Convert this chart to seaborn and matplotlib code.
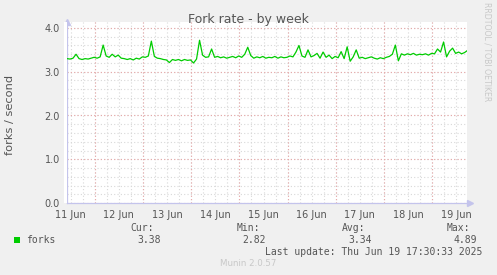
import numpy as np
import pandas as pd
import matplotlib
matplotlib.use("Agg")
import matplotlib.pyplot as plt
import seaborn as sns

# ---------------- data ----------------
title = "Fork rate - by week"
ylabel = "forks / second"
series_name = "forks"
start_day = 10.923          # left edge of the plot, in days of June
step_days = 0.0625          # 90-minute samples
fork_rate = [
    3.30, 3.29, 3.31, 3.40, 3.30, 3.28, 3.30, 3.29, 3.31, 3.33,
    3.31, 3.34, 3.61, 3.36, 3.33, 3.40, 3.34, 3.38, 3.31, 3.30,
    3.28, 3.30, 3.27, 3.31, 3.29, 3.34, 3.33, 3.36, 3.70, 3.35,
    3.31, 3.30, 3.28, 3.27, 3.21, 3.28, 3.26, 3.28, 3.25, 3.28,
    3.26, 3.27, 3.20, 3.29, 3.72, 3.38, 3.33, 3.34, 3.52, 3.33,
    3.35, 3.32, 3.34, 3.31, 3.33, 3.35, 3.32, 3.36, 3.33, 3.40,
    3.56, 3.37, 3.31, 3.34, 3.32, 3.35, 3.31, 3.33, 3.32, 3.35,
    3.31, 3.34, 3.32, 3.33, 3.36, 3.34, 3.45, 3.60, 3.36, 3.33,
    3.50, 3.34, 3.37, 3.42, 3.31, 3.45, 3.33, 3.38, 3.30, 3.35,
    3.32, 3.46, 3.30, 3.57, 3.24, 3.34, 3.50, 3.31, 3.33, 3.30,
    3.32, 3.34, 3.31, 3.29, 3.32, 3.30, 3.33, 3.35, 3.40, 3.61,
    3.25, 3.41, 3.38, 3.41, 3.39, 3.42, 3.38, 3.40, 3.39, 3.41,
    3.38, 3.42, 3.41, 3.52, 3.45, 3.68, 3.34, 3.47, 3.54, 3.42,
    3.45, 3.41, 3.44, 3.49,
]
day_labels = ["11 Jun", "12 Jun", "13 Jun", "14 Jun", "15 Jun",
              "16 Jun", "17 Jun", "18 Jun", "19 Jun"]
label_days = [11, 12, 13, 14, 15, 16, 17, 18, 19]
y_ticks = [0.0, 1.0, 2.0, 3.0, 4.0]
stat_names = ["Cur:", "Min:", "Avg:", "Max:"]
stat_values = ["3.38", "2.82", "3.34", "4.89"]
last_update = "Last update: Thu Jun 19 17:30:33 2025"
munin_version = "Munin 2.0.57"
side_text = "RRDTOOL / TOBI OETIKER"

days = start_day + step_days * np.arange(len(fork_rate))
df = pd.DataFrame({"day": days, "rate": fork_rate})

# ---------------- figure ----------------
W, H = 497, 275
sns.set_theme(style="white")
plt.rcParams["font.family"] = ["DejaVu Sans"]

fig = plt.figure(figsize=(W / 100, H / 100), dpi=100)
fig.patch.set_facecolor("#F0F0F0")

def fx(x):
    return x / W

def fy(y):
    return 1 - y / H

ax_left, ax_right, ax_top, ax_bottom = 67, 467, 22, 203
ax = fig.add_axes([fx(ax_left), fy(ax_bottom), (ax_right - ax_left) / W,
                   (ax_bottom - ax_top) / H])
ax.set_facecolor("white")
# small white margin left of the axis line, like rrdtool's canvas
fig.patches.append(plt.Rectangle((fx(64), fy(ax_bottom)), fx(3),
                                 (ax_bottom - ax_top) / H,
                                 transform=fig.transFigure,
                                 facecolor="white", edgecolor="none", zorder=0))

px_per_unit = 43.75
ymax = (ax_bottom - ax_top) / px_per_unit
xmax = start_day + (ax_right - ax_left) / 48.2
ax.set_xlim(start_day, xmax)
ax.set_ylim(0, ymax)

# grids
minor_col = "#D8D8D8"
major_col = "#E8A8A8"
dot = (0, (1, 2))
for v in np.arange(11.0, xmax, 0.25):
    ax.axvline(v, color=minor_col, lw=0.8, ls=dot, zorder=1)
for v in np.arange(0.2, ymax, 0.2):
    ax.axhline(v, color=minor_col, lw=0.8, ls=dot, zorder=1)
for d in label_days[:-1]:
    ax.axvline(d + 0.5, color=major_col, lw=0.8, ls=dot, zorder=2)
for v in y_ticks:
    ax.axhline(v, color=major_col, lw=0.8, ls=dot, zorder=2)

sns.lineplot(data=df, x="day", y="rate", ax=ax, color="#00CC00",
             linewidth=0.9, zorder=5, legend=False)

ax.set_xticks(label_days)
ax.set_xticklabels(day_labels)
ax.set_yticks(y_ticks)
ax.set_yticklabels([f"{v:.1f}" for v in y_ticks])
ax.tick_params(axis="both", length=0, labelsize=7, colors="#555555")
ax.tick_params(axis="x", pad=5)
ax.tick_params(axis="y", pad=5)
ax.set_xlabel("")
ax.set_ylabel("")

axis_col = "#C4C4EC"
for s in ["top", "right"]:
    ax.spines[s].set_visible(False)
for s in ["left", "bottom"]:
    ax.spines[s].set_color(axis_col)
    ax.spines[s].set_linewidth(0.9)
ax.plot([0], [1.0], marker="^", color=axis_col, ms=5, transform=ax.transAxes,
        clip_on=False, zorder=6)
ax.plot([1.008], [0], marker=">", color=axis_col, ms=5, transform=ax.transAxes,
        clip_on=False, zorder=6)

# texts
fig.text(fx(248.5), fy(19), title, ha="center", va="center", fontsize=9,
         color="#555555")
fig.text(fx(10), fy(115), ylabel, ha="center", va="center", rotation=90,
         fontsize=8.2, color="#555555")
fig.text(fx(487.5), fy(52), side_text, ha="center", va="center", rotation=270,
         fontsize=5.6, color="#C8C8C8")

mono = dict(family="DejaVu Sans Mono", fontsize=7, color="#555555")
fig.patches.append(plt.Rectangle((fx(14), fy(243)), fx(6), 6 / H,
                                 transform=fig.transFigure,
                                 facecolor="#00CC00", edgecolor="none"))
fig.text(fx(26.5), fy(240), series_name, ha="left", va="center", **mono)
name_right = [154, 260, 365, 470]
value_right = [161, 266, 372, 477]
for n, v, nr, vr in zip(stat_names, stat_values, name_right, value_right):
    fig.text(fx(nr), fy(228), n, ha="right", va="center", **mono)
    fig.text(fx(vr), fy(240), v, ha="right", va="center", **mono)
fig.text(fx(482.5), fy(252), last_update, ha="right", va="center", **mono)
fig.text(fx(248), fy(264), munin_version, ha="center", va="center",
         fontsize=6.2, color="#C8C8C8")

fig.savefig("out.png", dpi=100, facecolor=fig.get_facecolor())
